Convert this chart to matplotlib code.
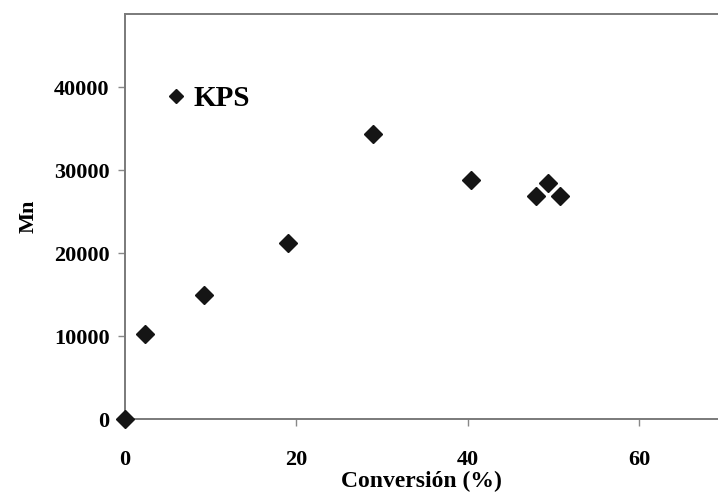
import matplotlib.pyplot as plt

# data
conversion = [0, 2.3, 9.2, 19.0, 29.0, 40.4, 48.0, 49.4, 50.8]
mn = [0, 10200, 14950, 21250, 34300, 28850, 26900, 28400, 26900]
x_ticks = [0, 20, 40, 60]
y_ticks = [0, 10000, 20000, 30000, 40000]

plt.rcParams["font.family"] = ["Liberation Serif", "DejaVu Serif"]
plt.rcParams["font.weight"] = "bold"

fig = plt.figure(figsize=(7.18, 4.95), dpi=100)
ax = fig.add_axes([0.174, 0.1535, 0.826, 0.818])

ax.plot(conversion, mn, linestyle="none", marker="D", markersize=9.5,
        color="#151515", label="KPS", clip_on=False, zorder=3)

ax.set_xlim(0, 69.2)
ax.set_ylim(0, 48800)
ax.set_xticks(x_ticks)
ax.set_yticks(y_ticks)
ax.tick_params(axis="both", direction="out", length=5, width=1,
               color="#888888", labelsize=16)
ax.tick_params(axis="x", pad=17)
ax.tick_params(axis="y", pad=6)
for lab in ax.get_xticklabels() + ax.get_yticklabels():
    lab.set_fontweight("bold")

for side in ["top", "left", "bottom"]:
    ax.spines[side].set_color("#7a7a7a")
    ax.spines[side].set_linewidth(1.4)
ax.spines["right"].set_visible(False)

ax.set_xlabel("Conversión (%)", fontsize=17, fontweight="bold", labelpad=1)
ax.set_ylabel("Mn", fontsize=16, fontweight="bold", labelpad=11)

ax.legend(loc="upper left", bbox_to_anchor=(0.02, 0.89), frameon=False,
          handletextpad=0.15, handlelength=0.9, markerscale=0.8,
          prop={"size": 21, "weight": "bold"})

plt.savefig("out.png", dpi=100)
